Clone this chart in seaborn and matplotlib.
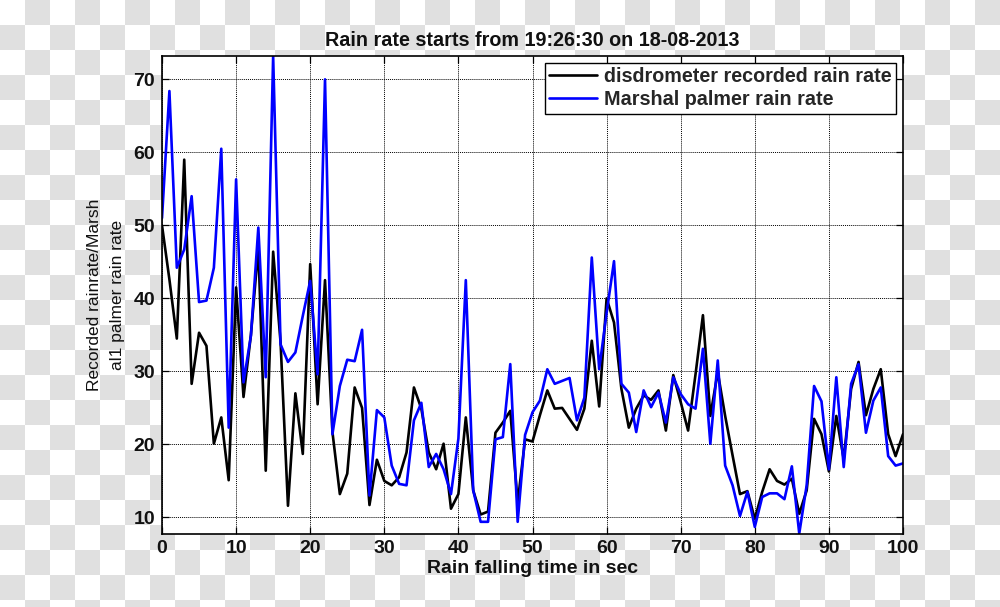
import numpy as np
import pandas as pd
import matplotlib
matplotlib.use("Agg")
import matplotlib.pyplot as plt
import seaborn as sns

# ---------------- data ----------------
time_sec = list(range(0, 101))

disdrometer = [
    50.0, 42.6, 34.5, 59.0, 28.3, 35.3, 33.5, 20.1, 23.7, 15.1,
    41.5, 26.5, 35.0, 47.0, 16.4, 46.4, 34.0, 11.6, 27.0, 18.7,
    44.7, 25.5, 42.5, 21.7, 13.2, 16.0, 27.8, 25.0, 11.7, 17.9,
    15.0, 14.4, 15.5, 18.9, 27.8, 24.9, 18.9, 16.6, 20.1, 11.2,
    13.2, 23.7, 13.7, 10.4, 10.8, 21.6, 23.0, 24.6, 12.0, 20.7,
    20.4, 24.0, 27.4, 24.9, 25.0, 23.5, 22.0, 24.9, 34.2, 25.2,
    40.0, 36.7, 27.6, 22.3, 24.9, 26.7, 26.1, 27.4, 21.9, 29.5,
    25.8, 21.9, 29.6, 37.7, 23.9, 29.9, 23.9, 18.5, 13.2, 13.6,
    9.8, 13.5, 16.6, 15.0, 14.5, 15.3, 10.5, 13.7, 23.5, 21.4,
    16.3, 23.9, 18.0, 27.6, 31.3, 24.0, 27.6, 30.3, 21.4, 18.4,
    21.4,
]

marshall_palmer = [
    51.0, 68.4, 44.2, 46.7, 54.0, 39.5, 39.7, 44.2, 60.5, 22.3,
    56.3, 28.5, 34.9, 49.7, 29.2, 73.2, 33.7, 31.3, 32.6, 37.6,
    42.4, 29.6, 70.0, 21.4, 28.0, 31.6, 31.4, 35.7, 13.0, 24.7,
    23.7, 17.1, 14.6, 14.4, 23.3, 25.7, 16.9, 18.7, 16.6, 13.2,
    20.8, 42.5, 13.7, 9.4, 9.4, 20.7, 21.0, 31.0, 9.4, 21.3,
    24.4, 26.0, 30.3, 28.3, 28.7, 29.1, 23.3, 26.4, 45.6, 30.3,
    38.0, 45.1, 28.3, 27.1, 21.7, 27.4, 25.1, 27.1, 23.0, 29.2,
    26.9, 25.5, 24.9, 33.1, 20.1, 31.5, 17.1, 14.4, 10.2, 13.5,
    8.7, 12.8, 13.3, 13.3, 12.5, 17.0, 7.8, 14.4, 28.0, 25.9,
    16.6, 29.2, 16.9, 28.3, 31.0, 21.6, 26.0, 27.8, 18.4, 17.1,
    17.4,
]

series_names = ["disdrometer recorded rain rate", "Marshal palmer rain rate"]
series_colors = ["#000000", "#0000ff"]
x_ticks = [0, 10, 20, 30, 40, 50, 60, 70, 80, 90, 100]
y_ticks = [10, 20, 30, 40, 50, 60, 70]
title_text = "Rain rate starts from 19:26:30 on 18-08-2013"
x_label = "Rain falling time in sec"
y_label = "Recorded rainrate/Marsh\nal1 palmer rain rate"

df = pd.DataFrame({
    "time": time_sec * 2,
    "rate": disdrometer + marshall_palmer,
    "series": [series_names[0]] * len(time_sec) + [series_names[1]] * len(time_sec),
})

# ---------------- style ----------------
sns.set_theme(style="white")
plt.rcParams["font.family"] = ["Liberation Sans", "DejaVu Sans"]

fig = plt.figure(figsize=(10, 6.07), dpi=100)
fig.patch.set_facecolor("white")

# transparent-background checkerboard as seen in the reference
H, W = 607, 1000
yy, xx = np.mgrid[0:H, 0:W]
board = np.where(((xx // 25) + (yy // 25)) % 2 == 1, 0.878, 1.0)
fig.figimage(board, xo=0, yo=0, cmap="gray", vmin=0, vmax=1,
             origin="upper", zorder=-5)

ax = fig.add_axes([0.162, 1 - 533.5 / 607, (903 - 162) / 1000, (533.5 - 56) / 607])
ax.set_facecolor("white")

sns.lineplot(data=df, x="time", y="rate", hue="series",
             palette=dict(zip(series_names, series_colors)),
             hue_order=series_names, linewidth=1.9, ax=ax, legend=False)

ax.set_xlim(min(time_sec), max(time_sec))
ax.set_ylim(min(disdrometer + marshall_palmer), max(disdrometer + marshall_palmer))
ax.set_xticks(x_ticks)
ax.set_yticks(y_ticks)
ax.set_xticklabels([str(t) for t in x_ticks])
ax.set_yticklabels([str(t) for t in y_ticks])

for lab in ax.get_xticklabels() + ax.get_yticklabels():
    lab.set_fontweight("bold")
    lab.set_fontsize(14)
    lab.set_color("#111111")

ax.tick_params(direction="in", length=5, width=0.9, color="black",
               top=True, right=True, bottom=True, left=True, pad=5)

ax.grid(True, which="major", color="black", linestyle=(0, (1, 1)), linewidth=0.7)
ax.set_axisbelow(True)
for sp in ax.spines.values():
    sp.set_visible(True)
    sp.set_color("black")
    sp.set_linewidth(1.2)

ax.set_title(title_text, fontsize=14.2, fontweight="bold", pad=7, color="#111111")
ax.set_xlabel(x_label, fontsize=14, fontweight="bold", labelpad=2, color="#111111")
ax.set_ylabel(y_label, fontsize=12.5, color="#111111", linespacing=1.7)
ax.yaxis.set_label_coords(-0.05, 0.5)

handles = ax.get_lines()[:2]
leg = ax.legend(handles, series_names, loc="upper right", frameon=True,
                fancybox=False, edgecolor="black", facecolor="white", framealpha=1,
                prop={"weight": "bold", "size": 14.2}, handlelength=2.45,
                handletextpad=0.35, borderpad=0.22, labelspacing=0.2,
                borderaxespad=0.35)
leg.get_frame().set_linewidth(1.0)

fig.savefig("out.png", dpi=100)
